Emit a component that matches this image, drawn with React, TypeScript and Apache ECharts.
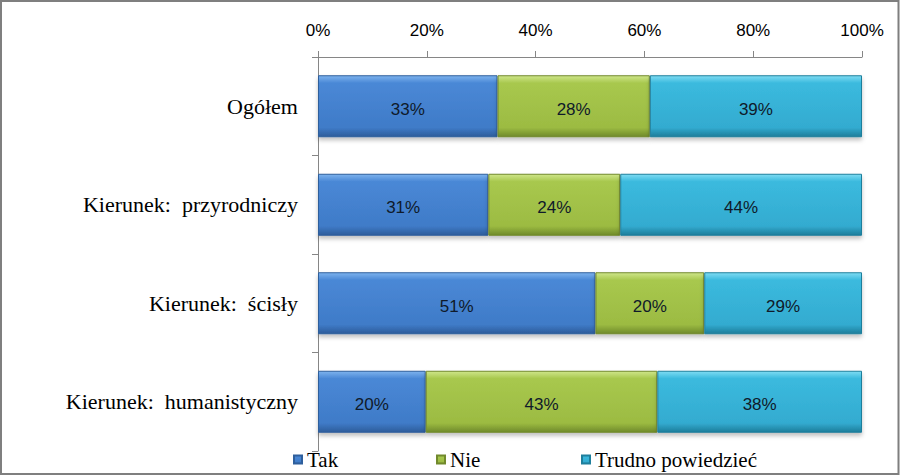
import React, { useEffect, useRef } from "react";
import * as echarts from "echarts";

const categories = [
  "Ogółem",
  "Kierunek:  przyrodniczy",
  "Kierunek:  ścisły",
  "Kierunek:  humanistyczny",
];
const seriesNames = ["Tak", "Nie", "Trudno powiedzieć"];
const takValues = [33, 31, 51, 20];
const nieValues = [28, 24, 20, 43];
const trudnoValues = [39, 44, 29, 38];
const xTicks = [0, 20, 40, 60, 80, 100];

const grad = (top: string, light: string, mid: string, bottom: string) =>
  new echarts.graphic.LinearGradient(0, 0, 0, 1, [
    { offset: 0, color: top },
    { offset: 0.12, color: light },
    { offset: 0.85, color: mid },
    { offset: 1, color: bottom },
  ]);

export default function App() {
  const ref = useRef<HTMLDivElement>(null);
  useEffect(() => {
    if (!ref.current) return;
    const chart = echarts.init(ref.current, null, { renderer: "svg" });
    const all = [takValues, nieValues, trudnoValues];
    const sums = categories.map((_, i) => all.reduce((s, arr) => s + arr[i], 0));
    const colors = [
      grad("#7db3ee", "#4a88d6", "#3f7bc8", "#2d5c9a"),
      grad("#cfe68a", "#a8c84e", "#9cbb42", "#6f8a2a"),
      grad("#7fdcf3", "#3bbade", "#33abd0", "#1d7d9a"),
    ];
    const borders = ["#2f5f9c", "#71892c", "#1f7f9c"];
    const series = all.map((arr, si) => ({
      name: seriesNames[si],
      type: "bar",
      stack: "total",
      barWidth: 62,
      data: arr.map((v, i) => ({ value: (v / sums[i]) * 100, raw: v })),
      itemStyle: {
        color: colors[si],
        borderColor: borders[si],
        borderWidth: 1,
        shadowColor: "rgba(0,0,0,0.25)",
        shadowBlur: 4,
        shadowOffsetY: 3,
      },
      label: {
        show: true,
        position: "inside",
        offset: [0, 3],
        formatter: (p: any) => `${p.data.raw}%`,
        color: "#0f1a2a",
        fontFamily: "Liberation Sans",
        fontSize: 17,
      },
    }));
    const legendTextStyle = {
      fontFamily: "Liberation Serif",
      fontSize: 21,
      color: "#000",
    };
    const legendLefts = [293, 436, 581];
    chart.setOption({
      animation: false,
      backgroundColor: "#fff",
      grid: { left: 318, right: 39, top: 57, height: 394 },
      xAxis: {
        type: "value",
        position: "top",
        min: 0,
        max: 100,
        interval: 20,
        axisLine: { show: true, lineStyle: { color: "#868686", width: 1 } },
        axisTick: { show: true, length: 6, lineStyle: { color: "#868686" } },
        splitLine: { show: false },
        axisLabel: {
          margin: 18,
          formatter: (v: number) => (xTicks.includes(v) ? `${v}%` : ""),
          fontFamily: "Liberation Sans",
          fontSize: 17,
          color: "#000",
        },
      },
      yAxis: {
        type: "category",
        inverse: true,
        data: categories,
        axisLine: { show: true, lineStyle: { color: "#868686", width: 1 } },
        axisTick: { show: true, length: 6, alignWithLabel: false, lineStyle: { color: "#868686" } },
        axisLabel: {
          margin: 20,
          padding: [6, 0, 0, 0],
          fontFamily: "Liberation Serif",
          fontSize: 22,
          color: "#000",
        },
      },
      legend: seriesNames.map((n, i) => ({
        data: [n],
        left: legendLefts[i],
        top: 449,
        padding: 0,
        itemWidth: 8,
        itemHeight: 8,
        itemGap: 0,
        icon: "rect",
        textStyle: legendTextStyle,
        selectedMode: false,
      })),
      graphic: [
        {
          type: "rect",
          shape: { x: 1, y: 1, width: 897.5, height: 473 },
          style: { fill: "none", stroke: "#7f7f7f", lineWidth: 2 },
          silent: true,
        },
      ],
      series,
    });
    return () => chart.dispose();
  }, []);
  return (
    <div
      ref={ref}
      style={{ position: "fixed", left: 0, top: 0, width: 901, height: 476 }}
    />
  );
}
